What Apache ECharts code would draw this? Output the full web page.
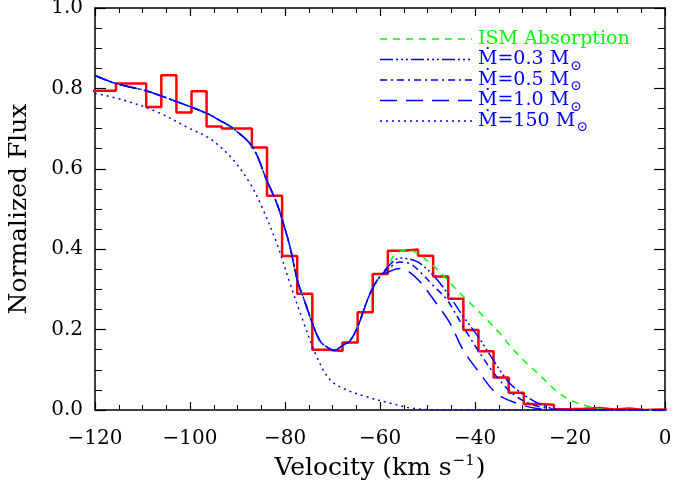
<!DOCTYPE html>
<html>
<head>
<meta charset="utf-8">
<script src="https://cdn.jsdelivr.net/npm/echarts@6/dist/echarts.min.js"></script>
<style>html,body{margin:0;padding:0;background:#fff}#c{width:688px;height:480px}</style>
</head>
<body>
<div id="c"></div>
<script>
// ---- data ----
const binEdges = [-121.94, -118.76, -115.58, -112.40, -109.22, -106.04, -102.86, -99.68, -96.51, -93.33, -90.15, -86.97, -83.79, -80.61, -77.43, -74.25, -71.07, -67.89, -64.71, -61.53, -58.35, -55.17, -51.99, -48.81, -45.63, -42.45, -39.27, -36.09, -32.91, -29.73, -26.56, -23.38, -20.20, -17.02, -13.84, -10.66, -7.48, -4.30, -1.12, 2.06];
const obsFlux = [0.794, 0.794, 0.812, 0.812, 0.754, 0.833, 0.740, 0.793, 0.705, 0.700, 0.700, 0.653, 0.533, 0.383, 0.289, 0.150, 0.147, 0.168, 0.243, 0.338, 0.396, 0.399, 0.384, 0.332, 0.277, 0.199, 0.146, 0.081, 0.043, 0.015, 0.013, 0.002, 0.003, 0.005, 0.001, 0.004, 0.000, 0.001, 0.000];

const commonVel = [-120, -115.58, -109.26, -102.8, -96.48, -93.68, -90.88, -86.84, -83.79, -81.75, -80.57, -78.95, -77.41, -75.79, -74.25, -72.63, -71.22, -69.62, -67.73, -66.32, -64.57, -62.8, -61.54, -60.0];
const commonFlux = [0.832, 0.812, 0.794, 0.767, 0.738, 0.72, 0.70, 0.654, 0.57, 0.515, 0.473, 0.406, 0.323, 0.268, 0.216, 0.172, 0.157, 0.148, 0.162, 0.172, 0.211, 0.269, 0.303, 0.332];

const ismVel  = [-58.4, -57.26, -55.79, -54.04, -51.58, -49.47, -47.37, -45.26, -43.16, -41.05, -37.47, -34.74, -32.63, -30.53, -27.79, -25.26, -22.74, -20.0, -16.42, -13.26, -7.37, 0];
const ismFlux = [0.355, 0.381, 0.394, 0.398, 0.386, 0.365, 0.343, 0.316, 0.291, 0.266, 0.224, 0.190, 0.160, 0.132, 0.102, 0.074, 0.046, 0.025, 0.010, 0.002, 0.000, 0];

const m03Vel  = [-57.89, -55.79, -53.68, -51.58, -48.42, -45.26, -42.46, -39.3, -36.15, -32.63, -29.12, -24.91, -20, 0];
const m03Flux = [0.362, 0.378, 0.375, 0.365, 0.330, 0.282, 0.232, 0.182, 0.124, 0.066, 0.033, 0.008, 0.0, 0];

const m05Vel  = [-57.89, -55.79, -53.68, -51.58, -48.42, -45.88, -42.46, -38.95, -35.44, -31.23, -26.32, -20, 0];
const m05Flux = [0.355, 0.368, 0.364, 0.344, 0.305, 0.274, 0.207, 0.141, 0.083, 0.033, 0.008, 0.0, 0];

const m10Vel  = [-57.89, -55.79, -53.68, -51.58, -48.42, -45.26, -42.53, -38.95, -35.44, -31.23, -27.02, -20, 0];
const m10Flux = [0.345, 0.352, 0.342, 0.319, 0.270, 0.216, 0.150, 0.091, 0.041, 0.017, 0.004, 0.0, 0];

const m150Vel  = [-120, -114.04, -107.01, -100, -96.48, -94.04, -90.88, -87.37, -85.05, -81.75, -78.95, -76.15, -73.33, -70.53, -67.01, -62.8, -57.89, -52.99, -45.96, 0];
const m150Flux = [0.788, 0.771, 0.742, 0.70, 0.68, 0.659, 0.622, 0.564, 0.51, 0.415, 0.315, 0.22, 0.133, 0.075, 0.05, 0.033, 0.017, 0.004, 0.0, 0];

const xTicks = [-120, -100, -80, -60, -40, -20, 0];
const yTicks = [0.0, 0.2, 0.4, 0.6, 0.8, 1.0];

const legendLabels = ['ISM Absorption', 'Ṁ=0.3 M', 'Ṁ=0.5 M', 'Ṁ=1.0 M', 'Ṁ=150 M'];

// ---- build ----
const zip = (xs, ys) => xs.map((x, i) => [x, ys[i]]);
const stepData = obsFlux.map((f, i) => [binEdges[i], f]);
stepData.push([binEdges[binEdges.length - 1], obsFlux[obsFlux.length - 1]]);

const GREEN = '#00ff00', BLUE = '#0000ff', RED = '#ff0000';
const FONT = 'DejaVu Serif';
const styles = [
  {color: GREEN, dash: [7, 6]},
  {color: BLUE, dash: [13, 3, 2, 3, 2, 3, 2, 3]},
  {color: BLUE, dash: [7, 4, 2, 4]},
  {color: BLUE, dash: [17, 9]},
  {color: BLUE, dash: [2, 4]}
];
const curves = [
  zip(commonVel.concat(ismVel), commonFlux.concat(ismFlux)),
  zip(commonVel.concat(m03Vel), commonFlux.concat(m03Flux)),
  zip(commonVel.concat(m05Vel), commonFlux.concat(m05Flux)),
  zip(commonVel.concat(m10Vel), commonFlux.concat(m10Flux)),
  zip(m150Vel, m150Flux)
];

const series = [{
  type: 'line', data: stepData, step: 'end', symbol: 'none', clip: true,
  lineStyle: {color: RED, width: 2.5}, z: 2
}];
curves.forEach((d, i) => series.push({
  type: 'line', data: d, symbol: 'none', smooth: 0.35, clip: true,
  lineStyle: {color: styles[i].color, width: 1.5, type: styles[i].dash}, z: 3
}));

const legendGraphics = [];
const rowY = [39, 59.5, 80, 100.5, 121];
legendLabels.forEach((t, i) => {
  legendGraphics.push({
    type: 'line', shape: {x1: 380, y1: rowY[i], x2: 472, y2: rowY[i]},
    style: {stroke: styles[i].color, lineWidth: 1.5, lineDash: styles[i].dash}
  });
  legendGraphics.push({
    type: 'text', x: 478, y: rowY[i],
    style: {
      text: i === 0 ? '{t|' + t + '}' : '{t|' + t + '}{s|⊙}',
      verticalAlign: 'middle', align: 'left',
      rich: {
        t: {fontFamily: FONT, fontSize: 19, fill: styles[i].color},
        s: {fontFamily: FONT, fontSize: 14, fill: styles[i].color, padding: [13, 0, 0, 1]}
      }
    }
  });
});

const fmtX = v => v < 0 ? '\u2212' + (-v) : String(v);
const axisCommonX = {
  type: 'value', min: xTicks[0], max: xTicks[xTicks.length - 1], interval: 20,
  axisLine: {show: true, onZero: false, lineStyle: {color: '#000', width: 1.5}},
  axisTick: {show: true, inside: true, length: 8, lineStyle: {color: '#000', width: 1.2}},
  minorTick: {show: true, splitNumber: 4, length: 5, lineStyle: {color: '#000', width: 1}},
  splitLine: {show: false}
};
const axisCommonY = {
  type: 'value', min: yTicks[0], max: yTicks[yTicks.length - 1], interval: 0.2,
  axisLine: {show: true, onZero: false, lineStyle: {color: '#000', width: 1.5}},
  axisTick: {show: true, inside: true, length: 11, lineStyle: {color: '#000', width: 1.2}},
  minorTick: {show: true, splitNumber: 4, length: 7, lineStyle: {color: '#000', width: 1}},
  splitLine: {show: false}
};

const chart = echarts.init(document.getElementById('c'), null, {renderer: 'canvas'});
chart.setOption({
  animation: false,
  backgroundColor: '#fff',
  grid: {left: 95, right: 23, top: 8, bottom: 70, containLabel: false, outerBoundsMode: 'none'},
  xAxis: [
    Object.assign({}, axisCommonX, {
      position: 'bottom',
      axisLabel: {formatter: fmtX, color: '#000', fontFamily: FONT, fontSize: 20, margin: 19},
      name: '{a|Velocity (km s}{b|−1}{a|)}', nameLocation: 'middle', nameGap: 40,
      nameTextStyle: {
        color: '#000', fontFamily: FONT, fontSize: 25,
        rich: {
          a: {fontFamily: FONT, fontSize: 25, color: '#000', lineHeight: 30},
          b: {fontFamily: FONT, fontSize: 15, color: '#000', lineHeight: 30, padding: [0, 1, 14, 1]}
        }
      }
    }),
    Object.assign({}, axisCommonX, {position: 'top', axisLabel: {show: false}})
  ],
  yAxis: [
    Object.assign({}, axisCommonY, {
      position: 'left',
      axisLabel: {formatter: v => v.toFixed(1), color: '#000', fontFamily: FONT, fontSize: 20, margin: 12},
      name: 'Normalized Flux', nameLocation: 'middle', nameGap: 63,
      nameTextStyle: {color: '#000', fontFamily: FONT, fontSize: 25}
    }),
    Object.assign({}, axisCommonY, {position: 'right', axisLabel: {show: false}})
  ],
  graphic: legendGraphics,
  series: series
});
</script>
</body>
</html>
